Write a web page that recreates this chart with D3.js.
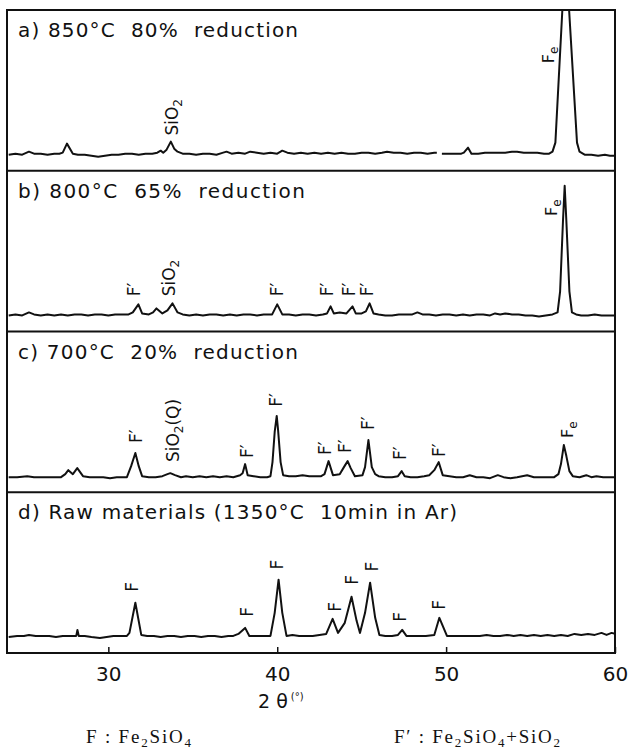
<!DOCTYPE html>
<html>
<head>
<meta charset="utf-8">
<script src="https://cdn.jsdelivr.net/npm/d3@7"></script>
<style>
  body { margin: 0; background: #fff; }
  text { fill: #111; }
</style>
</head>
<body>
<div id="chart"></div>
<script>
// x axis (2 theta, degrees)
var xDomain = [24, 60];
var xTicks = [30, 40, 50, 60];

var panelTitles = [
  "a) 850°C  80%  reduction",
  "b) 800°C  65%  reduction",
  "c) 700°C  20%  reduction",
  "d) Raw materials (1350°C  10min in Ar)"
];

// scans: [2theta, intensity]; null = break in the trace
var scanA = [[24.1,16],[24.5,17],[24.9,16],[25.3,19],[25.6,17],[26.0,17],[26.4,16],[26.8,17],[27.1,17],[27.3,18],[27.55,27],[27.9,17],[28.2,16],[28.6,16],[29.0,15],[29.4,14],[29.8,15],[30.2,16],[30.6,16],[31.0,17],[31.4,17],[31.8,16],[32.2,17],[32.6,17],[32.9,18],[33.1,20],[33.25,18],[33.45,21],[33.7,29],[33.9,22],[34.1,19],[34.4,17],[34.8,17],[35.2,16],[35.6,17],[36.0,17],[36.4,16],[36.8,18],[37.0,19],[37.3,17],[37.7,18],[38.1,17],[38.4,19],[38.8,18],[39.2,17],[39.6,18],[40.0,17],[40.3,20],[40.6,18],[41.0,17],[41.4,18],[41.8,17],[42.2,18],[42.6,17],[43.0,18],[43.4,17],[43.8,18],[44.2,17],[44.6,17],[45.0,18],[45.4,18],[45.8,17],[46.2,18],[46.5,19],[46.9,18],[47.3,18],[47.7,17],[48.1,18],[48.5,18],[48.9,17],[49.3,18],[49.45,18],null,[49.75,17],[50.1,17],[50.5,17],[50.9,17],[51.05,18],[51.3,23],[51.5,17],[51.9,17],[52.3,18],[52.7,18],[53.1,18],[53.5,18],[53.9,19],[54.2,19],[54.6,18],[55.0,18],[55.4,18],[55.8,17],[56.1,17],[56.3,19],[56.47,28],[57.07,220],[57.75,28],[57.9,19],[58.2,16],[58.6,16],[59.0,15],[59.4,16],[59.7,15],[60.0,15]];

var scanB = [[24.1,16],[24.5,17],[24.9,16],[25.3,19],[25.6,17],[26.0,16],[26.4,17],[26.8,16],[27.2,17],[27.6,16],[28.0,17],[28.4,17],[28.8,16],[29.2,17],[29.6,17],[30.0,16],[30.4,17],[30.8,17],[31.2,17],[31.45,19],[31.78,27],[32.0,18],[32.4,17],[32.65,19],[32.85,23],[33.2,18],[33.5,21],[33.8,28],[34.1,19],[34.4,17],[34.8,16],[35.2,17],[35.6,16],[36.0,17],[36.4,17],[36.8,16],[37.2,17],[37.6,16],[38.0,17],[38.4,17],[38.8,16],[39.2,17],[39.7,17],[40.0,27],[40.3,17],[40.7,17],[41.1,16],[41.5,17],[41.9,17],[42.3,16],[42.7,17],[42.95,18],[43.16,25],[43.35,18],[43.7,19],[44.1,18],[44.46,25],[44.65,18],[45.0,18],[45.25,20],[45.47,28],[45.7,18],[46.0,17],[46.4,16],[46.8,16],[47.2,17],[47.6,17],[48.0,17],[48.3,19],[48.6,17],[49.0,17],[49.4,16],[49.8,17],[50.2,17],[50.6,16],[51.0,17],[51.4,16],[51.8,17],[52.2,17],[52.6,16],[52.9,18],[53.2,17],[53.5,18],[53.9,17],[54.3,17],[54.7,16],[55.1,16],[55.5,15],[55.9,16],[56.3,17],[56.6,19],[56.75,40],[56.92,110],[57.02,145],[57.12,110],[57.3,40],[57.45,19],[57.7,17],[58.0,16],[58.4,16],[58.8,17],[59.2,16],[59.6,16],[60.0,16]];

var scanC = [[24.1,15],[24.6,15],[25.2,16],[25.6,15],[26.0,15],[26.4,15],[26.8,15],[27.2,15],[27.45,18],[27.63,22],[27.9,18],[28.16,24],[28.5,16],[28.9,15],[29.3,15],[29.7,15],[30.1,14],[30.5,15],[30.9,15],[31.1,15],[31.35,26],[31.6,39],[31.8,26],[32.0,16],[32.4,15],[32.8,15],[33.2,16],[33.5,18],[33.67,19],[33.95,17],[34.3,15],[34.6,16],[35.0,15],[35.4,16],[35.8,15],[36.2,16],[36.6,15],[37.0,16],[37.4,15],[37.8,17],[37.95,19],[38.1,28],[38.25,17],[38.6,16],[39.0,15],[39.4,15],[39.6,16],[39.72,30],[39.85,60],[39.97,76],[40.05,62],[40.2,30],[40.35,17],[40.7,16],[41.1,16],[41.5,17],[41.9,16],[42.3,16],[42.6,16],[42.8,18],[43.04,31],[43.3,17],[43.7,18],[43.95,25],[44.17,31],[44.35,24],[44.6,16],[45.05,17],[45.2,25],[45.4,52],[45.6,25],[45.8,18],[46.0,16],[46.4,15],[46.8,15],[47.15,16],[47.37,21],[47.55,16],[47.9,15],[48.3,15],[48.7,16],[49.0,17],[49.3,22],[49.56,30],[49.8,17],[50.2,16],[50.6,15],[51.0,15],[51.4,17],[51.8,15],[52.2,15],[52.6,14],[53.06,17],[53.4,15],[53.8,14],[54.2,15],[54.8,17],[55.2,15],[55.6,15],[56.0,15],[56.4,15],[56.65,18],[56.8,28],[56.97,47],[57.12,36],[57.3,21],[57.5,16],[57.9,15],[58.3,17],[58.6,15],[58.9,16],[59.3,15],[59.7,15],[60.0,15]];

var scanD = [[24.1,16],[24.6,17],[25.0,17],[25.3,18],[25.7,17],[26.1,17],[26.5,17],[26.9,16],[27.3,17],[27.7,17],[28.1,17],[28.17,23],[28.25,17],[28.6,17],[29.0,16],[29.5,15],[29.9,16],[30.3,17],[30.7,17],[31.1,17],[31.25,20],[31.6,50],[31.95,18],[32.3,17],[32.7,17],[33.1,16],[33.5,17],[33.9,17],[34.3,16],[34.7,17],[35.1,17],[35.5,16],[35.9,17],[36.3,17],[36.7,16],[37.1,17],[37.4,17],[37.7,19],[38.1,25],[38.35,17],[38.7,17],[39.1,17],[39.6,17],[39.85,40],[40.08,73],[40.3,40],[40.55,17],[40.9,18],[41.3,17],[41.7,17],[42.1,17],[42.5,18],[42.9,19],[43.28,34],[43.6,20],[44.0,30],[44.4,56],[44.7,32],[44.9,20],[45.2,40],[45.5,70],[45.8,35],[46.05,18],[46.4,17],[46.8,17],[47.15,18],[47.4,23],[47.65,17],[48.0,17],[48.4,17],[48.8,17],[49.3,18],[49.6,35],[50.05,17],[50.4,17],[50.8,17],[51.2,17],[51.6,17],[52.0,17],[52.4,18],[52.8,17],[53.2,17],[53.6,18],[54.0,17],[54.4,18],[54.8,17],[55.2,18],[55.6,17],[56.0,18],[56.4,17],[56.8,18],[57.2,17],[57.6,19],[58.0,18],[58.4,19],[58.8,18],[59.2,20],[59.5,18],[59.8,20],[60.0,19]];

// peak labels: [2theta, intensity at foot of label, text]  ("_" = next char subscript)
var labelsA = [[33.75,35,"SiO_2"],[56.02,107,"F_e"]];
var labelsB = [[31.5,35,"F′"],[33.6,35,"SiO_2"],[40.0,35,"F′"],[42.95,35,"F′"],[44.25,35,"F′"],[45.3,35,"F′"],[56.2,115,"F_e"]];
var labelsC = [[31.65,49,"F′"],[33.8,30,"SiO_2(Q)"],[38.2,34,"F′"],[39.95,85,"F′"],[42.8,37,"F′"],[44.0,39,"F′"],[45.35,62,"F′"],[47.25,32,"F′"],[49.6,35,"F′"],[57.15,54,"F_e"]];
var labelsD = [[31.4,61,"F"],[38.2,36,"F"],[40.0,83,"F"],[43.4,41,"F"],[44.4,68,"F"],[45.6,81,"F"],[47.25,31,"F"],[49.6,43,"F"]];

var legendItems = ["F : Fe_2SiO_4", "F′ : Fe_2SiO_4+SiO_2"];

var scans = [scanA, scanB, scanC, scanD];
var labels = [labelsA, labelsB, labelsC, labelsD];

var width = 630, height = 749;
var frame = { left: 7, right: 615, top: 10, bottom: 653 };
var ph = (frame.bottom - frame.top) / 4;
var titleWidths = [280, 287, 280, 439];

var svg = d3.select("#chart").append("svg")
    .attr("width", width)
    .attr("height", height);

var x = d3.scaleLinear().domain(xDomain).range([frame.left, frame.right]);

// writes "SiO_2" style strings as tspans with subscripts
function richText(t, str, subSize, subDy) {
    var parts = str.split("_");
    t.append("tspan").text(parts[0]);
    for (var i = 1; i < parts.length; i++) {
        t.append("tspan").style("font-size", subSize + "px").attr("dy", subDy).text(parts[i][0]);
        if (parts[i].length > 1) t.append("tspan").attr("dy", -subDy).text(parts[i].slice(1));
    }
}

var line = d3.line()
    .defined(function (d) { return d != null; });

scans.forEach(function (scan, i) {
    var pTop = frame.top + i * ph, pBot = pTop + ph;
    var y = d3.scaleLinear().domain([0, 160]).range([pBot, pTop]);

    svg.append("clipPath").attr("id", "clip" + i)
        .append("rect")
        .attr("x", frame.left).attr("y", pTop)
        .attr("width", frame.right - frame.left).attr("height", ph);

    line.x(function (d) { return x(d[0]); })
        .y(function (d) { return y(d[1]); });

    svg.append("path")
        .datum(scan)
        .attr("clip-path", "url(#clip" + i + ")")
        .attr("fill", "none")
        .attr("stroke", "#111")
        .attr("stroke-width", 2)
        .attr("stroke-linejoin", "round")
        .attr("d", line);

    // panel title
    svg.append("text")
        .attr("x", 18)
        .attr("y", pTop + 27)
        .attr("textLength", titleWidths[i])
        .attr("lengthAdjust", "spacing")
        .style("font-family", "DejaVu Sans")
        .style("font-size", "20px")
        .style("white-space", "pre")
        .text(panelTitles[i]);

    // peak labels, rotated
    labels[i].forEach(function (d) {
        var fs = d[2] === "F_e" ? 16 : 17;
        var t = svg.append("text")
            .attr("transform", "translate(" + (x(d[0]) + fs * 0.36) + "," + y(d[1]) + ") rotate(-90)")
            .style("font-family", "DejaVu Sans")
            .style("font-size", fs + "px");
        richText(t, d[2], 12, 4);
    });

    // separator line
    if (i > 0) {
        svg.append("line")
            .attr("x1", frame.left).attr("x2", frame.right)
            .attr("y1", pTop).attr("y2", pTop)
            .attr("stroke", "#111").attr("stroke-width", 2);
    }
});

svg.append("rect")
    .attr("x", frame.left).attr("y", frame.top)
    .attr("width", frame.right - frame.left)
    .attr("height", frame.bottom - frame.top)
    .attr("fill", "none")
    .attr("stroke", "#111")
    .attr("stroke-width", 2);

// bottom axis: inward ticks
var xAxis = svg.append("g")
    .attr("transform", "translate(0," + frame.bottom + ")")
    .call(d3.axisBottom(x).tickValues(xTicks).tickSizeInner(-6).tickSizeOuter(0).tickPadding(14));
xAxis.select(".domain").remove();
xAxis.selectAll("line").attr("stroke", "#111").attr("stroke-width", 1.5);
xAxis.selectAll("text")
    .style("font-family", "DejaVu Sans")
    .style("font-size", "20px")
    .attr("fill", "#111");

// axis title
var xt = svg.append("text")
    .attr("x", 258)
    .attr("y", 708)
    .style("font-family", "DejaVu Sans")
    .style("font-size", "19px");
xt.append("tspan").text("2 θ");
xt.append("tspan").attr("dx", 3).attr("dy", -8).style("font-size", "10px").text("(°)");

// legend
var legendX = [86, 394];
var legendWidths = [105, 166];
legendItems.forEach(function (s, i) {
    var t = svg.append("text")
        .attr("x", legendX[i])
        .attr("y", 743)
        .attr("textLength", legendWidths[i])
        .attr("lengthAdjust", "spacing")
        .style("font-family", "Liberation Serif")
        .style("font-size", "19px");
    richText(t, s, 13, 4);
});
</script>
</body>
</html>
